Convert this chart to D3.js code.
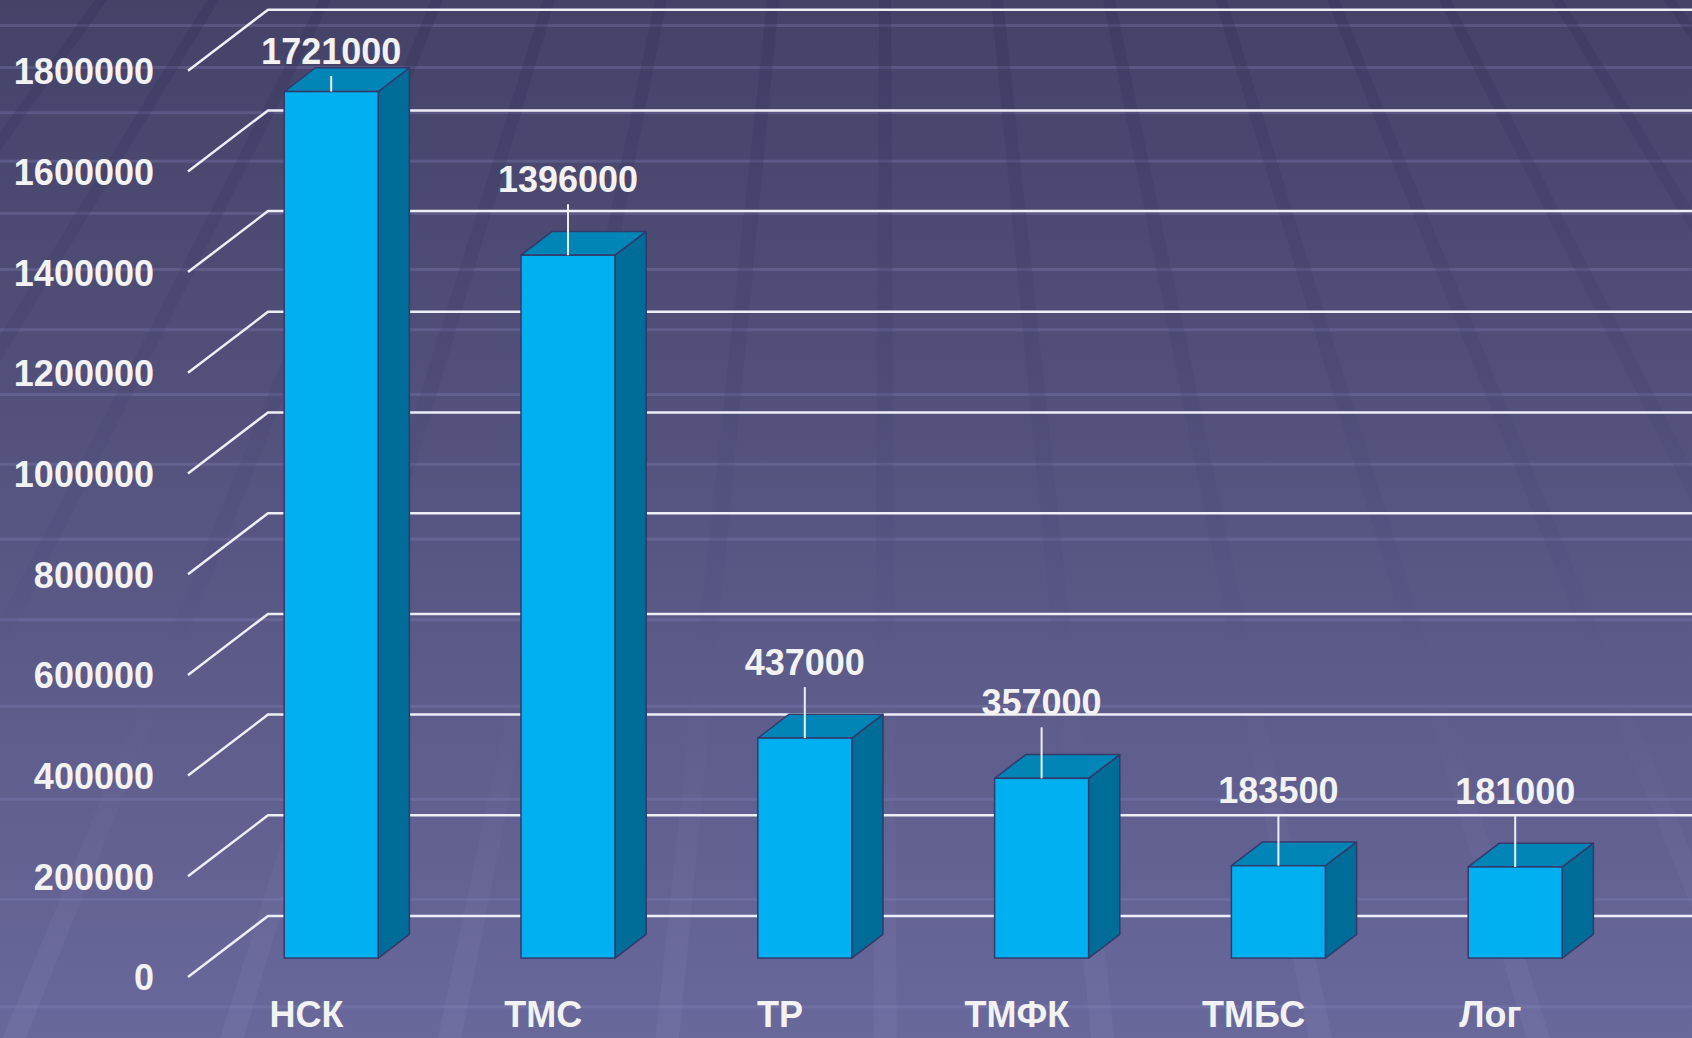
<!DOCTYPE html>
<html>
<head>
<meta charset="utf-8">
<script src="https://cdn.jsdelivr.net/npm/d3@7"></script>
<style>
  html, body { margin: 0; padding: 0; overflow: hidden; background: #55537f; }
  svg { display: block; }
  text { font-family: "Liberation Sans", Arial, sans-serif; font-weight: bold; fill: #f2f2f2; }
</style>
</head>
<body>
<div id="chart"></div>
<script>
const categories = ["НСК", "ТМС", "ТР", "ТМФК", "ТМБС", "Лог"];
const values = [1721000, 1396000, 437000, 357000, 183500, 181000];
const yTicks = [0, 200000, 400000, 600000, 800000, 1000000, 1200000, 1400000, 1600000, 1800000];

const W = 1692, H = 1038;

// 3d-ish projection: depth 0 = front edge of floor, depth 1 = back wall
const depth = { dx: 80, dy: -61 };
const barFront = 0.31, barBack = 0.70;

const svg = d3.select("#chart")
    .append("svg")
    .attr("width", W)
    .attr("height", H);

const defs = svg.append("defs");

const bg = defs.append("linearGradient")
    .attr("id", "bg")
    .attr("x1", 0).attr("y1", 0).attr("x2", 0).attr("y2", 1);
bg.append("stop").attr("offset", "0%").attr("stop-color", "#444267");
bg.append("stop").attr("offset", "100%").attr("stop-color", "#69689b");

const bandGrad = defs.append("linearGradient")
    .attr("id", "bandGrad")
    .attr("gradientUnits", "userSpaceOnUse")
    .attr("x1", 0).attr("y1", 0).attr("x2", 0).attr("y2", H);
bandGrad.append("stop").attr("offset", "0%").attr("stop-color", "#2e2c55").attr("stop-opacity", 0.28);
bandGrad.append("stop").attr("offset", "55%").attr("stop-color", "#4a4878").attr("stop-opacity", 0.18);
bandGrad.append("stop").attr("offset", "100%").attr("stop-color", "#9b9acb").attr("stop-opacity", 0.12);

svg.append("rect")
    .attr("width", W)
    .attr("height", H)
    .attr("fill", "url(#bg)");

// background decoration: perspective floor pattern
const deco = svg.append("g").attr("class", "deco");

let sy = 24, gap = 42;
while (sy < H) {
    deco.append("rect")
        .attr("x", 0).attr("y", sy)
        .attr("width", W).attr("height", 3)
        .attr("fill", "#8584bd")
        .attr("opacity", 0.3);
    sy += gap;
    gap *= 1.075;
}

const vp = { x: 885, y: -1100 };
d3.range(-14, 15).forEach(k => {
    const x0 = vp.x + k * 112;
    const t = (H - vp.y) / (0 - vp.y);
    const pts = [
        [x0 - 6, 0], [x0 + 6, 0],
        [vp.x + (x0 + 6 - vp.x) * t, H], [vp.x + (x0 - 6 - vp.x) * t, H]
    ];
    deco.append("polygon")
        .attr("points", pts.map(p => p.join(",")).join(" "))
        .attr("fill", "url(#bandGrad)");
});

const x = d3.scaleBand()
    .domain(categories)
    .range([188, 188 + 6 * 236.8])
    .paddingInner(0.603)
    .paddingOuter(0.3015);

const y = d3.scaleLinear()
    .domain([0, 1800000])
    .range([977, 977 - 9 * 100.7]);

const x0 = 188;
const backX = x0 + depth.dx;

// gridlines: short diagonal on the floor side, then along back wall
const grid = svg.append("g").attr("class", "grid");
yTicks.forEach(t => {
    const yy = y(t);
    grid.append("path")
        .attr("d", `M${x0},${yy} L${backX},${yy + depth.dy} L${W},${yy + depth.dy}`)
        .attr("fill", "none")
        .attr("stroke", "#eeeef6")
        .attr("stroke-width", 2.5);
});

const yAxis = d3.axisLeft(y)
    .tickValues(yTicks)
    .tickSize(0)
    .tickPadding(0)
    .tickFormat(d3.format("d"));

const yg = svg.append("g")
    .attr("transform", "translate(154,0)")
    .call(yAxis);
yg.select(".domain").remove();
yg.selectAll("text")
    .attr("dy", "0.36em")
    .style("font-size", "36px")
    .attr("fill", "#f2f2f2");

// bars
const bars = svg.append("g").attr("class", "bars");
const fdx = barFront * depth.dx, fdy = barFront * depth.dy;
const bdx = (barBack - barFront) * depth.dx, bdy = (barBack - barFront) * depth.dy;
const bw = x.bandwidth();

categories.forEach((c, i) => {
    const left = x(c) + fdx;
    const right = left + bw;
    const top = y(values[i]) + fdy;
    const bottom = y(0) + fdy;
    const g = bars.append("g");
    // side
    g.append("polygon")
        .attr("points", [[right, top], [right + bdx, top + bdy], [right + bdx, bottom + bdy], [right, bottom]].map(p => p.join(",")).join(" "))
        .attr("fill", "#006c98")
        .attr("stroke", "#333a6c").attr("stroke-width", 1.5).attr("stroke-linejoin", "round");
    // top
    g.append("polygon")
        .attr("points", [[left, top], [left + bdx, top + bdy], [right + bdx, top + bdy], [right, top]].map(p => p.join(",")).join(" "))
        .attr("fill", "#0085b6")
        .attr("stroke", "#333a6c").attr("stroke-width", 1.5).attr("stroke-linejoin", "round");
    // front
    g.append("rect")
        .attr("x", left).attr("y", top)
        .attr("width", bw).attr("height", bottom - top)
        .attr("fill", "#00b0f0")
        .attr("stroke", "#333a6c").attr("stroke-width", 1.5);

    // value label with leader line
    const cx = left + bw / 2;
    const ly = Math.max(51, top - 76);
    svg.append("line")
        .attr("x1", cx).attr("y1", ly + 25)
        .attr("x2", cx).attr("y2", top)
        .attr("stroke", "#eeeef6").attr("stroke-width", 2);
    svg.append("text")
        .attr("x", cx).attr("y", ly)
        .attr("dy", "0.36em")
        .attr("text-anchor", "middle")
        .style("font-size", "36px")
        .text(values[i]);
});

// category labels at front edge of the floor
const xAxis = d3.axisBottom(x).tickSize(0).tickPadding(0);
const xg = svg.append("g")
    .attr("transform", "translate(0,1027)")
    .call(xAxis);
xg.select(".domain").remove();
xg.selectAll("text")
    .attr("y", 0).attr("dy", 0)
    .style("font-size", "36px")
    .attr("fill", "#f2f2f2");
</script>
</body>
</html>
